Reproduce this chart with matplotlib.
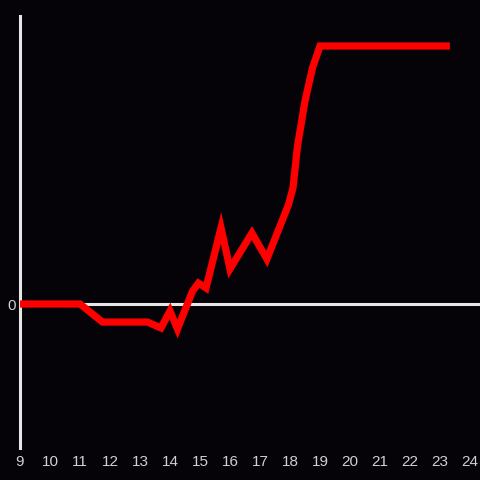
import matplotlib
matplotlib.use("Agg")
import matplotlib.pyplot as plt

hours = [9.0, 11.0, 11.75, 13.25, 13.7, 14.0, 14.25, 14.75, 14.95, 15.2, 15.7, 16.0,
         16.73, 17.23, 17.95, 18.1, 18.25, 18.5, 18.75, 19.0, 23.33]
values = [0, 0, -7.0, -7.0, -9.3, -2.7, -9.7, 5.0, 8.1, 6.2, 29.5, 13.6,
          27.5, 17.4, 38.5, 45.0, 61.2, 78.7, 91.5, 100, 100]
xticks = list(range(9, 25))
yticks = [0]

bg = "#050307"
fig = plt.figure(figsize=(4.8, 4.8), dpi=100, facecolor=bg)
ax = fig.add_axes([20/480, 32/480, 460/480, 432/480])
ax.set_facecolor(bg)

ax.axhline(0, color="#e6e6e6", lw=2.2, zorder=1)
ax.plot(hours, values, color="#ff0000", lw=5.2, solid_joinstyle="miter",
        solid_capstyle="butt", zorder=3)

ax.set_xlim(9, 9 + 460/30)
ax.set_ylim(-144/2.58, 288/2.58)

for s in ["top", "right", "bottom"]:
    ax.spines[s].set_visible(False)
ax.spines["left"].set_color("#e6e6e6")
ax.spines["left"].set_linewidth(2.2)

ax.set_xticks(xticks)
ax.set_xticklabels([str(t) for t in xticks])
ax.set_yticks(yticks)
ax.set_yticklabels(["0"])
ax.tick_params(axis="both", length=0, colors="#d0d0d0", labelsize=11)
ax.tick_params(axis="x", pad=5)
ax.tick_params(axis="y", pad=3)
for lab in ax.get_xticklabels() + ax.get_yticklabels():
    lab.set_fontfamily("Liberation Sans")

fig.savefig("out.png", dpi=100, facecolor=bg)
